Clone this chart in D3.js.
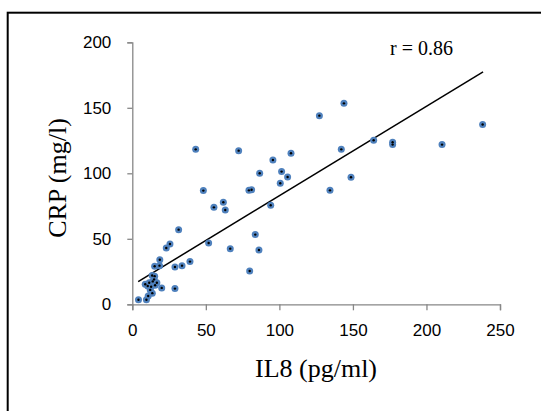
<!DOCTYPE html>
<html lang="en">
<head>
    <meta charset="utf-8">
    <title>IL8 vs CRP</title>
    <script src="https://d3js.org/d3.v7.min.js"></script>
    <style>
        body { margin: 0; background: #fff; }
        .axis path, .axis line { stroke: #878787; stroke-width: 1.3; }
        .axis text { font-family: "Liberation Sans", Arial, sans-serif; font-size: 17px; fill: #000; }
        .title { font-family: "Liberation Serif", "Times New Roman", serif; fill: #000; }
    </style>
</head>

<body>
    <script type="text/javascript">
        // data
        var il8 = [4.2, 9.6, 10.8, 13.6, 8.8, 10.5, 11.5, 12.2, 12.8, 13.9,
                   15.5, 16.7, 14.8, 13.5, 15.2, 20, 15.2, 18.5, 18.7, 29,
                   29, 33.8, 39.2, 23.1, 25.6, 31.5, 43.1, 48.3, 51.9, 55.5,
                   61.9, 63.2, 66.6, 72.3, 79.3, 81.1, 79.8, 83.6, 86.1, 86.6,
                   94.1, 95.6, 100.6, 101.5, 105.6, 107.9, 127.2, 134.4, 143.9, 142.1,
                   148.7, 164.1, 177, 177, 210.6, 238.2];
        var crp = [3.5, 3.5, 6.3, 8.5, 15.3, 14, 16.5, 11, 13.4, 17.5,
                   14.5, 16.5, 19, 22, 21.5, 12.5, 29, 29.5, 34, 12,
                   28.5, 29.5, 32.6, 43, 46, 57, 118.3, 86.8, 46.8, 74,
                   77.9, 72, 42.5, 117.3, 87, 87.5, 25.4, 53.2, 41.5, 100,
                   75.6, 110.2, 92.4, 101.3, 97.2, 115.3, 144, 87, 153.4, 118.3,
                   97, 125.2, 123.7, 121.9, 121.9, 137.2];
        var trendX = [4, 238.5];
        var trendY = [17.3, 177.5];
        var xTicks = [0, 50, 100, 150, 200, 250];
        var yTicks = [0, 50, 100, 150, 200];

        var w = 541;
        var h = 411;

        var svg = d3.select("body")
                    .append("svg")
                    .attr("width", w)
                    .attr("height", h);

        // outer frame (runs off the right and bottom edge)
        svg.append("rect")
            .attr("x", 7.7)
            .attr("y", 12.7)
            .attr("width", 600)
            .attr("height", 500)
            .attr("fill", "none")
            .attr("stroke", "#000")
            .attr("stroke-width", 2);

        var x = d3.scaleLinear().domain([0, 250]).range([132.3, 500]);
        var y = d3.scaleLinear().domain([0, 200]).range([304.3, 42.3]);

        svg.append("g")
            .attr("class", "axis")
            .attr("transform", "translate(0," + y(0) + ")")
            .call(d3.axisBottom(x).tickValues(xTicks).tickSize(6).tickPadding(14));

        svg.append("g")
            .attr("class", "axis")
            .attr("transform", "translate(" + x(0) + ",0)")
            .call(d3.axisLeft(y).tickValues(yTicks).tickSize(5).tickPadding(16));

        //Trend line
        svg.append("line")
            .attr("x1", x(trendX[0]))
            .attr("y1", y(trendY[0]))
            .attr("x2", x(trendX[1]))
            .attr("y2", y(trendY[1]))
            .attr("stroke", "#000")
            .attr("stroke-width", 1.5);

        var pts = il8.map(function(d, i) { return [d, crp[i]]; });

        svg.selectAll("circle.pt")
            .data(pts)
            .enter()
            .append("circle")
            .attr("class", "pt")
            .attr("cx", function(d) { return x(d[0]); })
            .attr("cy", function(d) { return y(d[1]); })
            .attr("r", 3.5)
            .attr("fill", "#4f81bd");

        svg.selectAll("circle.dot")
            .data(pts)
            .enter()
            .append("circle")
            .attr("class", "dot")
            .attr("cx", function(d) { return x(d[0]); })
            .attr("cy", function(d) { return y(d[1]); })
            .attr("r", 1.2)
            .attr("fill", "#000");

        svg.append("text")
            .attr("class", "title")
            .attr("x", 390)
            .attr("y", 55)
            .attr("font-size", "20px")
            .text("r = 0.86");

        svg.append("text")
            .attr("class", "title")
            .attr("x", 316)
            .attr("y", 377)
            .attr("text-anchor", "middle")
            .attr("font-size", "26px")
            .text("IL8 (pg/ml)");

        svg.append("text")
            .attr("class", "title")
            .attr("transform", "translate(66,178) rotate(-90)")
            .attr("text-anchor", "middle")
            .attr("font-size", "26px")
            .text("CRP (mg/l)");
    </script>
</body>
</html>
